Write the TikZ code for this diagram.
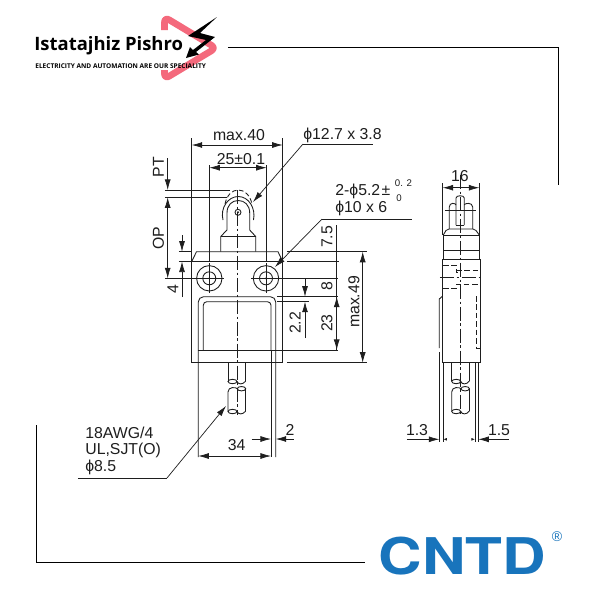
\documentclass[tikz,border=0pt]{standalone}
\usepackage{fontspec}
\setmainfont{Liberation Sans}
\newfontfamily\logofont{Open Sans}
\newfontfamily\brandfont{TeX Gyre Heros}
\usetikzlibrary{arrows.meta}
\definecolor{inkgray}{HTML}{1E1E1E}
\definecolor{cntdblue}{HTML}{1874BC}
\definecolor{logopink}{HTML}{F4697C}

\begin{document}
\begin{tikzpicture}[x=0.02cm,y=-0.02cm]
            \tikzset{line/.style={line width=0.5pt,draw=inkgray}};
            \tikzset{thin line/.style={line width=0.4pt,draw=inkgray}};
            \tikzset{dim/.style={line width=0.4pt,draw=inkgray,-{Latex[length=6pt,width=3.4pt]}}};
            \tikzset{small dim/.style={line width=0.4pt,draw=inkgray,-{Latex[length=2pt,width=1.6pt]}}};
            \tikzset{twodim/.style={line width=0.4pt,draw=inkgray,{Latex[length=6pt,width=3.4pt]}-{Latex[length=6pt,width=3.4pt]}}};
            \tikzset{axis/.style={line width=0.4pt,draw=inkgray,dash pattern=on 8pt off 1.5pt on 1.5pt off 1.5pt}};
            \tikzset{hidden/.style={line width=0.5pt,draw=inkgray,dash pattern=on 3.2pt off 1.6pt}};
            \tikzset{label/.style={font=\fontsize{9}{10}\selectfont,text=inkgray,inner sep=0pt}};

            \useasboundingbox (0,0) rectangle (600,600);
            \fill[white] (0,0) rectangle (600,600);

            % frame lines
            \draw[thin line,black] (228,47) -- (558,47) -- (558,185);
            \draw[thin line,black] (36,425) -- (36,562) -- (365,562);

            % logo
            \draw[logopink,line width=3.8pt,line join=round,rounded corners=3pt] (164.5,30) -- (164.5,17) -- (216,48) -- (164.5,79) -- (164.5,70);
            \fill[black] (217,17) -- (188,36) -- (206,40) -- (193,50) -- (190,47) -- (186,58) -- (199,54.5) -- (196,52) -- (215,37) -- (200,33) -- cycle;
            \node[anchor=west,inner sep=0pt,font=\logofont\bfseries\fontsize{10.5}{12}\selectfont] (brand) at (34,46) {Istatajhiz Pishro};
            \node[anchor=west,inner sep=0pt,font=\logofont\bfseries\fontsize{3.72}{4}\selectfont] (slogan) at (35,66) {ELECTRICITY AND AUTOMATION ARE OUR SPECIALITY};

            % front view, body
            \draw[line] (191.7,138) -- (191.7,362.7) -- (282.7,362.7) -- (282.7,138);
            \draw[line] (191.7,261.5) -- (196.5,251.7) -- (278,251.7) -- (282.7,261.5);
            \draw[line] (191.7,261.5) -- (282.7,261.5);
            \draw[line,rounded corners=3pt] (198.3,457) -- (198.3,296.7) -- (275.7,296.7) -- (275.7,457);
            \draw[line] (271,350) -- (271,457);
            \draw[line,rounded corners=2pt] (203.3,350) -- (203.3,301.7) -- (271,301.7) -- (271,350);
            \draw[line] (198.3,350) -- (338,350);

            % mounting holes
            \foreach \hx in {209.3,266} {
                \draw[line] (\hx,278.3) circle[radius=12.7];
                \draw[line] (\hx,278.3) circle[radius=6.5];
                \draw[thin line] (\hx,263) -- (\hx,293);
            }
            \fill[inkgray] (209.3,278.3) circle[radius=1];
            \fill[inkgray] (266,278.3) circle[radius=1];
            \draw[thin line] (165,278.3) -- (224,278.3);
            \draw[thin line] (251,278.3) -- (338,278.3);

            % plunger and roller
            \draw[line] (209.3,165) -- (209.3,262);
            \draw[line] (266.7,165) -- (266.7,262);
            \draw[line] (220.7,251.7) -- (220.7,236.5) -- (227,230) -- (227,213) .. controls (227,205) and (232,200.5) .. (238.3,200.5) .. controls (244.5,200.5) and (249.7,205) .. (249.7,213) -- (249.7,230) -- (255.7,236.5) -- (255.7,251.7);
            \draw[line] (220.7,236.5) -- (255.7,236.5);
            \draw[line] (223,220) .. controls (220,208) and (228,196.5) .. (238.3,196.5) .. controls (248.5,196.5) and (256,208) .. (253.5,220);
            \draw[line,dash pattern=on 2.6pt off 1.5pt] (225,204) .. controls (227,195) and (232,190) .. (238.3,190) .. controls (244.5,190) and (250,195) .. (252,204);
            \draw[line] (238,212.3) circle[radius=3];
            \fill[inkgray] (238,212.3) circle[radius=1.1];
            \draw[axis] (237.7,190) -- (237.7,415);

            % cables
            \foreach \cx in {228,451.7} {
                \begin{scope}[shift={(\cx,0)}]
                    \draw[line] (0,362.7) -- (0,381);
                    \draw[line] (17.7,362.7) -- (17.7,381);
                    \draw[line] (4.5,381.5) ellipse[x radius=4.5,y radius=2.2];
                    \draw[line] (9,381.5) .. controls (10,384.5) and (15,385) .. (17.7,381);
                    \draw[line] (13.5,388.7) ellipse[x radius=4.2,y radius=2.2];
                    \draw[line] (9.3,388.7) .. controls (8,387) and (0,386.5) .. (0,392) -- (0,411);
                    \draw[line] (17.7,389) -- (17.7,411);
                    \draw[line] (4.5,411.5) ellipse[x radius=4.5,y radius=2.2];
                    \draw[line] (9,411.5) .. controls (10,414.5) and (15,415) .. (17.7,411);
                \end{scope}
            }

            % front view, extension lines
            \draw[thin line] (165,190) -- (230,190);
            \draw[thin line] (165,197.3) -- (227,197.3);
            \draw[thin line] (179,251.7) -- (192,251.7);
            \draw[thin line] (179,261.5) -- (192,261.5);
            \draw[thin line] (287,251.7) -- (367,251.7);
            \draw[thin line] (287,261.5) -- (339,261.5);
            \draw[thin line] (277,296.7) -- (338,296.7);
            \draw[thin line] (277,301.7) -- (309,301.7);
            \draw[thin line] (287,362.7) -- (367,362.7);
            \draw[thin line] (336.7,225) -- (336.7,350);

            % front view, dimensions
            \draw[twodim] (191.7,145) -- (282.7,145);
            \node[label] (width40) at (239,135) {max.40};
            \draw[twodim] (209.3,167.7) -- (266.7,167.7);
            \node[label] (pitch25) at (241,159) {25±0.1};
            \draw[dim] (167.7,158) -- (167.7,190);
            \node[label,rotate=90] (pt) at (158.5,167) {PT};
            \draw[twodim] (167.7,197.3) -- (167.7,278.3);
            \node[label,rotate=90] (op) at (158.5,238) {OP};
            \draw[dim] (182,235) -- (182,251.7);
            \draw[dim] (182,297) -- (182,261.5);
            \node[label,rotate=90] (four) at (173,289) {4};
            \node[label,rotate=90] (top75) at (327,237) {7.5};
            \draw[dim] (305,338) -- (305,301.7);
            \draw[dim] (305,278.3) -- (305,296.7);
            \node[label,rotate=90] (gap22) at (295,323) {2.2};
            \node[label,rotate=90] (eight) at (327,286) {8};
            \draw[twodim] (336.7,296.7) -- (336.7,350);
            \node[label,rotate=90] (win23) at (327,323) {23};
            \draw[twodim] (362.7,251.7) -- (362.7,362.7);
            \node[label,rotate=90] (height49) at (354,302) {max.49};
            \draw[twodim] (198.3,456) -- (271,456);
            \node[label] (width34) at (236.7,445) {34};
            \draw[dim] (251.7,439) -- (271,439);
            \draw[dim] (294,439) -- (275.7,439);
            \node[label] (two) at (290,430) {2};

            % leaders
            \coordinate (rollerknee) at (303,144);
            \draw[thin line] (373,144) -- (rollerknee);
            \draw[dim] (rollerknee) -- (253,202);
            \node[label,anchor=west] (rollersize) at (303,135) {ϕ12.7 x 3.8};
            \coordinate (holeknee) at (322,219);
            \draw[thin line] (412,219) -- (holeknee);
            \draw[dim] (holeknee) -- (275,267);
            \node[label,anchor=west] (holesize) at (335,191) {2-ϕ5.2};
            \node[label] (holepm) at (386,191) {±};
            \node[label,font=\fontsize{5.5}{6}\selectfont] (tolup) at (403.5,183.5) {0. 2};
            \node[label,font=\fontsize{5.5}{6}\selectfont] (toldown) at (399,198) {0};
            \node[label,anchor=west] (boresize) at (335,208) {ϕ10 x 6};
            \coordinate (cableknee) at (167,478);
            \draw[thin line] (78,478) -- (cableknee);
            \draw[dim] (cableknee) -- (226,406);
            \node[label,anchor=west] (awg) at (85,433) {18AWG/4};
            \node[label,anchor=west] (ul) at (85,450) {UL,SJT(O)};
            \node[label,anchor=west] (sheath) at (85,467) {ϕ8.5};

            % side view
            \draw[line] (456,225) -- (456,198) .. controls (456,195) and (464.3,195) .. (464.3,198) -- (464.3,225);
            \draw[line] (456,225) -- (464.3,225);
            \draw[line] (449.3,229) -- (449.3,207) .. controls (449.3,202) and (456,203) .. (456,205);
            \draw[line] (472.7,229) -- (472.7,207) .. controls (472.7,202) and (464.3,203) .. (464.3,205);
            \draw[thin line] (445,210.7) -- (476,210.7);
            \draw[line] (443.3,235) -- (446,230.5) -- (449,229) -- (473,229) -- (476,230.5) -- (479.3,235);
            \draw[line] (443.3,235) -- (479.3,235) -- (479.3,259.3) -- (443.3,259.3) -- cycle;
            \draw[line] (443.3,250) -- (479.3,250);
            \draw[line] (442.7,259.3) -- (442.7,362.3) -- (480,362.3) -- (480,259.3);
            \draw[line] (439.3,348) -- (439.3,299) -- (442.7,296);
            \draw[line] (439.3,352) -- (439.3,441.7);
            \draw[line] (443.3,362.3) -- (443.3,441.7);
            \draw[line] (475,362.3) -- (475,441.7);
            \draw[line] (478.3,362.3) -- (478.3,441.7);
            \draw[hidden] (476,296) -- (476,348) -- (480,348);
            \draw[hidden] (443,265) -- (456,265) -- (456,272) -- (461,272);
            \draw[hidden] (456,270) -- (480,270);
            \draw[hidden] (443,288.7) -- (456,288.7) -- (456,284) -- (480,284);
            \draw[axis] (440,277) -- (482,277);
            \draw[axis] (460,175) -- (460,415);

            % side view, dimensions
            \draw[thin line] (442.7,183) -- (442.7,235);
            \draw[thin line] (479.3,183) -- (479.3,235);
            \draw[twodim] (442.7,187.7) -- (479.3,187.7);
            \node[label] (depth16) at (460,176) {16};
            \draw[dim] (407,439.3) -- (439.3,439.3);
            \draw[small dim] (446.5,439.3) -- (443.3,439.3);
            \node[label] (gap13) at (417,430) {1.3};
            \draw[dim] (509,439.3) -- (478.3,439.3);
            \draw[small dim] (472,439.3) -- (475,439.3);
            \node[label] (gap15) at (499,430) {1.5};

            % CNTD mark
            \node[anchor=center,inner sep=0pt,text=cntdblue,xscale=1.19,font=\brandfont\bfseries\fontsize{28.8}{30}\selectfont] (cntd) at (462.5,556.5) {CNTD};
            \node[inner sep=0pt,text=cntdblue,font=\fontsize{8}{8}\selectfont] (regmark) at (557,537) {®};
        \end{tikzpicture}
\end{document}
